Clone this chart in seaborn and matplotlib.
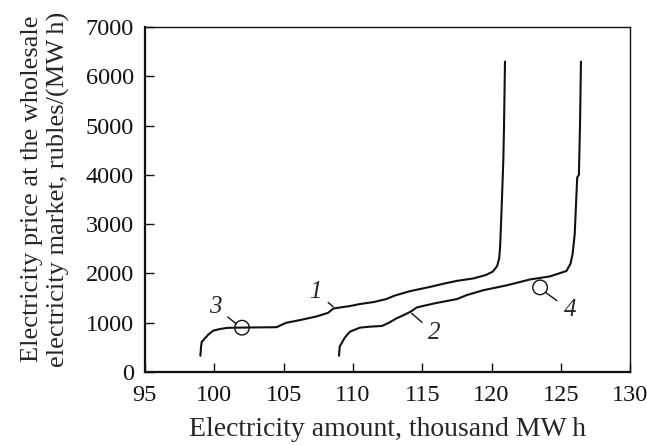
import numpy as np
import pandas as pd
import matplotlib
matplotlib.use('Agg')
import matplotlib.pyplot as plt
import seaborn as sns

# curve 1 (price vs amount)
x1 = [99.0, 99.05, 99.1, 99.2, 99.33, 99.45, 99.57, 99.75, 99.93, 100.4, 100.9, 101.4,
      104.5, 104.8, 105.2, 106.2, 107.4, 108.2, 108.6, 109.8, 110.5, 111.5, 112.4, 113.0,
      114.1, 115.6, 116.5, 117.5, 118.7, 119.6, 120.1, 120.4, 120.55, 120.62, 120.7,
      120.75, 120.85, 120.9, 120.97]
y1 = [330, 520, 615, 640, 690, 720, 760, 800, 840, 872, 895, 900,
      910, 950, 1000, 1055, 1130, 1200, 1290, 1340, 1380, 1420, 1480, 1550,
      1640, 1730, 1790, 1850, 1900, 1970, 2040, 2150, 2300, 2550, 3120,
      3500, 4300, 4980, 6300]

# curve 2
x2 = [109.0, 109.05, 109.2, 109.4, 109.6, 109.8, 110.5, 111.2, 112.1, 112.6, 113.15,
      113.7, 114.2, 114.6, 115.2, 116.0, 117.5, 118.2, 119.4, 121.1, 122.8, 124.2,
      125.4, 125.7, 125.85, 126.0, 126.1, 126.18, 126.3, 126.38, 126.45]
y2 = [330, 520, 590, 690, 760, 820, 900, 920, 935, 1000, 1090,
      1160, 1230, 1310, 1350, 1400, 1480, 1560, 1660, 1760, 1880, 1940,
      2050, 2200, 2400, 2800, 3450, 3950, 4000, 4980, 6300]

# circle markers (points 3 and 4)
mark_x = [102.0, 123.5]
mark_y = [900, 1718]

# labels: text, label position, leader end
labels = ['1', '2', '3', '4']
label_x = [107.3, 115.9, 100.05, 125.65]
label_y = [1630, 785, 1325, 1258]
lead_x = [108.58, 114.24, 101.6, 123.93]
lead_y = [1325, 1191, 975, 1609]

xticks = [95, 100, 105, 110, 115, 120, 125, 130]
yticks = [0, 1000, 2000, 3000, 4000, 5000, 6000, 7000]

sns.set_style('ticks')
plt.rcParams['font.family'] = ['Liberation Serif', 'DejaVu Serif']

fig = plt.figure(figsize=(6.47, 4.45), dpi=100)
ax = fig.add_axes([0.224, 0.164, 0.750, 0.775])

df1 = pd.DataFrame({'x': x1, 'y': y1})
df2 = pd.DataFrame({'x': x2, 'y': y2})
sns.lineplot(data=df1, x='x', y='y', sort=False, estimator=None, color='#111111', lw=1.5, ax=ax)
sns.lineplot(data=df2, x='x', y='y', sort=False, estimator=None, color='#111111', lw=1.5, ax=ax)
sns.scatterplot(x=mark_x, y=mark_y, s=110, facecolor='none', edgecolor='#111111', linewidth=1.0, ax=ax, zorder=5)

for t, lx, ly, ex, ey in zip(labels, label_x, label_y, lead_x, lead_y):
    ax.annotate(t, xy=(ex, ey), xytext=(lx, ly), fontsize=18, style='italic',
                ha='center', va='center',
                arrowprops=dict(arrowstyle='-', lw=1.0, color='#111111', shrinkA=3, shrinkB=0))

ax.set_xlim(95, 130)
ax.set_ylim(0, 7000)
ax.set_xticks(xticks)
ax.set_yticks(yticks)
ax.tick_params(direction='in', length=6.5, width=1.0, labelsize=17.5, colors='#111111')
ax.tick_params(axis='y', pad=8)
ax.tick_params(axis='x', pad=9)

for s in ['left', 'bottom']:
    ax.spines[s].set_linewidth(1.6)
for s in ['top', 'right']:
    ax.spines[s].set_linewidth(1.0)
for s in ax.spines.values():
    s.set_color('#111111')

ax.set_xlabel('Electricity amount, thousand MW\u2009h', fontsize=20, labelpad=8)
ax.set_ylabel('Electricity price at the wholesale\nelectricity market, rubles/(MW\u2009h)',
              fontsize=19, linespacing=1.2)
ax.yaxis.set_label_coords(-0.155, 0.53)

plt.savefig('out.png', dpi=100)
